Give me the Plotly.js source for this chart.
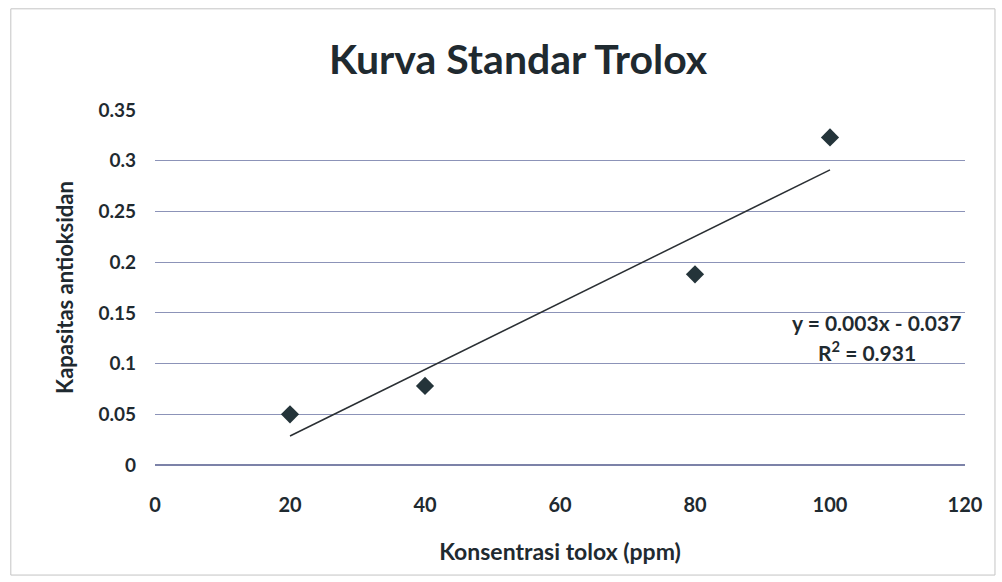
<!DOCTYPE html>
<html>
<head>
<meta charset="utf-8">
<script src="https://cdn.plot.ly/plotly-3.0.1.min.js"></script>
<style>html,body{margin:0;padding:0;background:#fff;}#chart{width:1002px;height:582px;}</style>
</head>
<body>
<div id="chart"></div>
<script>
var konsentrasi = [20, 40, 80, 100];
var kapasitas = [0.050, 0.078, 0.188, 0.323];
var xTicks = [0, 20, 40, 60, 80, 100, 120];
var yTicks = [0, 0.05, 0.1, 0.15, 0.2, 0.25, 0.3, 0.35];
var yTickLabels = ['0', '0.05', '0.1', '0.15', '0.2', '0.25', '0.3', '0.35'];
var equationText = 'y = 0.003x - 0.037';
var r2Text = 'R<sup>2</sup> = 0.931';

// least-squares linear trendline from the data (as Excel does)
var n = konsentrasi.length;
var mx = konsentrasi.reduce(function(a,b){return a+b;},0)/n;
var my = kapasitas.reduce(function(a,b){return a+b;},0)/n;
var sxy = 0, sxx = 0;
for (var i = 0; i < n; i++) { sxy += (konsentrasi[i]-mx)*(kapasitas[i]-my); sxx += (konsentrasi[i]-mx)*(konsentrasi[i]-mx); }
var slope = sxy/sxx, intercept = my - slope*mx;
var trendX = [Math.min.apply(null, konsentrasi), Math.max.apply(null, konsentrasi)];
var trendY = trendX.map(function(x){return slope*x + intercept;});

var font = 'Lato, "Open Sans", sans-serif';
var dark = '#1f2a30';
var data = [
  {x: trendX, y: trendY, type: 'scatter', mode: 'lines', line: {color: '#2a2f33', width: 1.5}, hoverinfo: 'skip', showlegend: false},
  {x: konsentrasi, y: kapasitas, type: 'scatter', mode: 'markers', marker: {symbol: 'diamond', size: 14, color: '#24343a'}, showlegend: false}
];
var layout = {
  width: 1002, height: 582,
  margin: {l: 155, r: 37, t: 110, b: 117},
  paper_bgcolor: '#ffffff', plot_bgcolor: '#ffffff',
  title: {text: '<b>Kurva Standar Trolox</b>', x: 0.517, xanchor: 'center', y: 0.898, yanchor: 'middle', font: {family: font, size: 41, color: dark}},
  xaxis: {range: [0, 120], tickvals: xTicks, ticktext: xTicks.map(String), showgrid: false, zeroline: false, showline: false, ticks: '',
    ticklabelstandoff: 26,
    tickfont: {family: font, size: 20, color: dark, weight: 'bold'},
    title: {text: '<b>Konsentrasi tolox (ppm)</b>', standoff: 28, font: {family: font, size: 23, color: dark}}},
  yaxis: {range: [0, 0.35], tickvals: yTicks, ticktext: yTickLabels, showgrid: true, gridcolor: '#8c93b8', gridwidth: 1,
    zeroline: true, zerolinecolor: '#7c82a8', zerolinewidth: 1.5, showline: false, ticks: '',
    ticklabelstandoff: 18,
    tickfont: {family: font, size: 19, color: dark, weight: 'bold'},
    title: {text: '<b>Kapasitas antioksidan</b>', standoff: 18, font: {family: font, size: 22, color: dark}}},
  annotations: [
    {x: 0.997, y: 0.402, xref: 'paper', yref: 'paper', xanchor: 'right', yanchor: 'middle', showarrow: false,
     text: '<b>' + equationText + '</b>', font: {family: font, size: 21, color: dark}},
    {x: 0.942, y: 0.322, xref: 'paper', yref: 'paper', xanchor: 'right', yanchor: 'middle', showarrow: false,
     text: '<b>' + r2Text + '</b>', font: {family: font, size: 21, color: dark}}
  ],
  shapes: [
    {type: 'rect', xref: 'paper', yref: 'paper', x0: -0.178, x1: 1.037, y0: -0.31, y1: 1.285, line: {color: '#c4c4c4', width: 1}}
  ]
};
Plotly.newPlot('chart', data, layout, {displayModeBar: false, staticPlot: true});
</script>
</body>
</html>
